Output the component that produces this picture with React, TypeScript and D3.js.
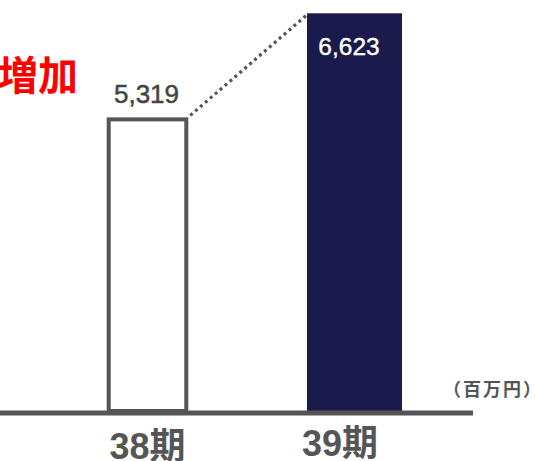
import React from "react";
import * as d3 from "d3";

const categories = ["38期", "39期"];
const values = [5319, 6623];
const valueLabels = ["5,319", "6,623"];
const unitLabel = "（百万円）";
const headline = "増加";

const W = 535;
const H = 461;
const GRAY = "#555555";
const NAVY = "#1b1a4c";

export default function App() {
  const x = d3.scalePoint<string>().domain(categories).range([147.5, 354.5]);
  const y = d3.scaleLinear().domain([1640, 6623]).range([411, 13.3]);

  const b1x = x(categories[0])!;
  const b2x = x(categories[1])!;
  const w1 = 81.6;
  const w2 = 95;
  const sw = 4;
  const y1 = y(values[0]);
  const y2 = y(values[1]);

  const latin = "'Liberation Sans', Arial, 'Noto Sans CJK JP', sans-serif";

  return (
    <svg
      width={W}
      height={H}
      style={{ position: "absolute", left: 0, top: 0, background: "#fff" }}
      fontFamily={latin}
    >
      <rect x={0} y={0} width={W} height={H} fill="#fff" />
      {/* headline */}
      <text
        x={78}
        y={90}
        textAnchor="end"
        fontSize={40}
        fontWeight={700}
        fill="#ff0000"
        fontFamily="'Noto Sans CJK JP', sans-serif"
      >
        {headline}
      </text>

      {/* bar 1 outline */}
      <rect
        x={b1x - w1 / 2 + sw / 2}
        y={y1 + sw / 2}
        width={w1 - sw}
        height={y(1640) - y1 - sw / 2}
        fill="#fff"
        stroke={GRAY}
        strokeWidth={sw}
      />
      {/* bar 2 filled */}
      <rect
        x={b2x - w2 / 2}
        y={y2}
        width={w2}
        height={y(1640) - y2}
        fill={NAVY}
      />

      {/* dotted connector */}
      <line
        x1={b1x + w1 / 2 + 2}
        y1={y1 - 2}
        x2={b2x - w2 / 2}
        y2={y2 + 1.5}
        stroke={GRAY}
        strokeWidth={3.2}
        strokeDasharray="3,3.5"
      />

      {/* baseline */}
      <line x1={0} x2={473} y1={413} y2={413} stroke={GRAY} strokeWidth={5} />

      {/* value labels */}
      <text
        x={b1x - 1}
        y={103}
        textAnchor="middle"
        fontSize={26}
        fill="#444"
        stroke="#444"
        strokeWidth={0.5}
      >
        {valueLabels[0]}
      </text>
      <text
        x={b2x - 5.5}
        y={55}
        textAnchor="middle"
        fontSize={24.5}
        fill="#fff"
        stroke="#fff"
        strokeWidth={0.4}
      >
        {valueLabels[1]}
      </text>

      {/* category labels */}
      <text
        x={b1x}
        y={459}
        textAnchor="middle"
        fontSize={36}
        fontWeight={700}
        fill={GRAY}
      >
        {categories[0]}
      </text>
      <text
        x={b2x - 14.5}
        y={456}
        textAnchor="middle"
        fontSize={36}
        fontWeight={700}
        fill={GRAY}
      >
        {categories[1]}
      </text>

      {/* unit */}
      <text
        x={443}
        y={396}
        fontSize={18}
        fontWeight={700}
        fill={GRAY}
        letterSpacing={2}
        fontFamily="'Noto Sans CJK JP', sans-serif"
      >
        {unitLabel}
      </text>
    </svg>
  );
}
